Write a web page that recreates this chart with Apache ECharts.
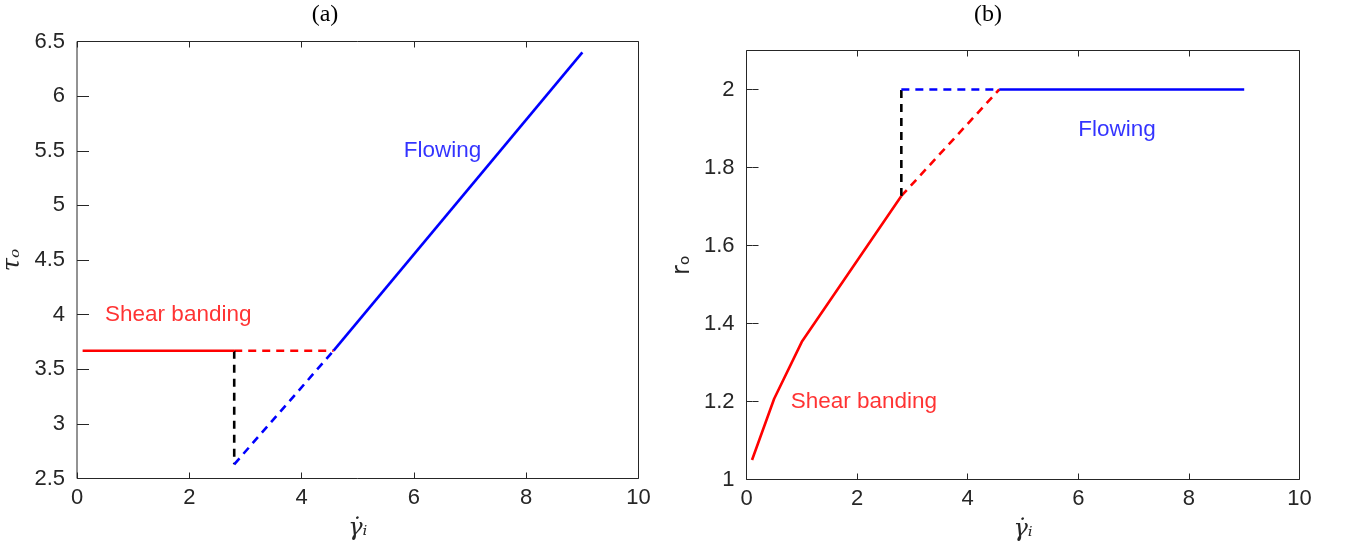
<!DOCTYPE html>
<html>
<head>
<meta charset="utf-8">
<script src="https://cdn.jsdelivr.net/npm/echarts@6/dist/echarts.min.js"></script>
<style>
html,body{margin:0;padding:0;background:#fff;}
#chart{width:1346px;height:549px;}
</style>
</head>
<body>
<div id="chart"></div>
<script>
// ---- Data: panel (a) tau_o vs gamma_dot_i ----
const redSolidA  = [[0.1, 3.67], [2.8, 3.67]];
const redDashA   = [[2.8, 3.67], [4.57, 3.67]];
const blackDashA = [[2.8, 3.67], [2.8, 2.63]];
const blueDashA  = [[2.8, 2.63], [4.57, 3.67]];
const blueSolidA = [[4.57, 3.67], [9.0, 6.4]];

// ---- Data: panel (b) r_o vs gamma_dot_i ----
const redSolidB  = [[0.1, 1.05], [0.5, 1.207], [1.0, 1.353], [2.8, 1.727]];
const redDashB   = [[2.8, 1.727], [4.57, 2.0]];
const blackDashB = [[2.8, 1.727], [2.8, 2.0]];
const blueDashB  = [[2.8, 2.0], [4.57, 2.0]];
const blueSolidB = [[4.57, 2.0], [9.0, 2.0]];

// ---- Annotations (data coords) ----
const annotA = [{ value: [0.5, 4.0], text: 'Shear banding', color: '#ff0000' },
                { value: [5.82, 5.5], text: 'Flowing', color: '#0000ff' }];
const annotB = [{ value: [0.8, 1.2], text: 'Shear banding', color: '#ff0000' },
                { value: [6.0, 1.896], text: 'Flowing', color: '#0000ff' }];

// ---- Axis settings ----
const xRange = [0, 10, 2];
const yRangeA = [2.5, 6.5, 0.5];
const yRangeB = [1, 2.1, 0.2];
const titles = ['(a)', '(b)'];
const xName = 'γ̇ᵢ';
const yNameA = 'τₒ';
const yNameB = 'rₒ';

const AX = '#262626';
const SANS = '"Liberation Sans", Arial, Helvetica, sans-serif';
const SERIF = '"DejaVu Serif", "Liberation Serif", serif';
const TICK = 6;

// Ticks pointing into the plot: each axis is shifted inward by TICK px (negative offset)
// and draws outward ticks of length TICK, so they end on the grid border.
function tickCfg() { return { show: true, inside: false, length: TICK, lineStyle: { color: AX, width: 1 } }; }

function xAxes(gi) {
  const base = { type: 'value', gridIndex: gi, min: xRange[0], max: xRange[1], interval: xRange[2],
                 splitLine: { show: false }, axisLine: { show: false }, axisTick: tickCfg(), offset: -TICK };
  return [
    Object.assign({}, base, {
      position: 'bottom',
      axisLabel: { color: AX, fontSize: 22, fontFamily: SANS, margin: 8 + TICK },
      name: xName, nameLocation: 'middle', nameGap: 38 + TICK,
      nameTextStyle: { fontFamily: SERIF, fontStyle: 'italic', fontSize: 24, color: AX }
    }),
    Object.assign({}, base, { position: 'top', axisLabel: { show: false } })
  ];
}
function yAxes(gi, r, name, nameFont, nameStyle, showMax) {
  const base = { type: 'value', gridIndex: gi, min: r[0], max: r[1], interval: r[2],
                 splitLine: { show: false }, axisLine: { show: false }, axisTick: tickCfg(), offset: -TICK };
  return [
    Object.assign({}, base, {
      position: 'left',
      axisLabel: { color: AX, fontSize: 22, fontFamily: SANS, margin: 12 + TICK, showMaxLabel: showMax },
      name: name, nameLocation: 'middle', nameGap: 52 + TICK, nameRotate: 90,
      nameTextStyle: { fontFamily: nameFont, fontStyle: nameStyle, fontSize: 24, color: AX }
    }),
    Object.assign({}, base, { position: 'right', axisLabel: { show: false } })
  ];
}

function line(data, color, dashed, xi, yi) {
  return { type: 'line', data: data, xAxisIndex: xi, yAxisIndex: yi, showSymbol: false, symbol: 'none',
           lineStyle: { color: color, width: 2.6, type: dashed ? [8, 6] : 'solid' }, z: dashed ? 2 : 3, silent: true };
}
function annot(arr, xi, yi) {
  return { type: 'scatter', xAxisIndex: xi, yAxisIndex: yi, symbolSize: 0, silent: true,
           data: arr.map(a => ({ value: a.value, label: { formatter: a.text, color: a.color } })),
           label: { show: true, position: 'right', distance: 0, fontSize: 22.5, fontFamily: SANS } };
}

const chart = echarts.init(document.getElementById('chart'), null, { renderer: 'canvas' });
chart.setOption({
  animation: false,
  backgroundColor: '#fff',
  grid: [
    { left: 75.5, top: 41.5, width: 563, height: 437, show: true, borderColor: AX, borderWidth: 1, backgroundColor: 'transparent' },
    { left: 746.5, top: 50.5, width: 553, height: 429, show: true, borderColor: AX, borderWidth: 1, backgroundColor: 'transparent' }
  ],
  xAxis: [...xAxes(0), ...xAxes(1)],
  yAxis: [...yAxes(0, yRangeA, yNameA, SERIF, 'italic', true), ...yAxes(1, yRangeB, yNameB, '"DejaVu Sans", sans-serif', 'normal', false)],
  graphic: [
    { type: 'text', x: 325, y: 15, style: { text: titles[0], font: '24px "Liberation Serif", serif', fill: '#000', textAlign: 'center', textVerticalAlign: 'middle' } },
    { type: 'text', x: 988, y: 15, style: { text: titles[1], font: '24px "Liberation Serif", serif', fill: '#000', textAlign: 'center', textVerticalAlign: 'middle' } }
  ],
  series: [
    line(redSolidA, '#ff0000', false, 0, 0),
    line(redDashA, '#ff0000', true, 0, 0),
    line(blackDashA, '#000000', true, 0, 0),
    line(blueDashA, '#0000ff', true, 0, 0),
    line(blueSolidA, '#0000ff', false, 0, 0),
    annot(annotA, 0, 0),
    line(redSolidB, '#ff0000', false, 2, 2),
    line(redDashB, '#ff0000', true, 2, 2),
    line(blackDashB, '#000000', true, 2, 2),
    line(blueDashB, '#0000ff', true, 2, 2),
    line(blueSolidB, '#0000ff', false, 2, 2),
    annot(annotB, 2, 2)
  ]
});
</script>
</body>
</html>
